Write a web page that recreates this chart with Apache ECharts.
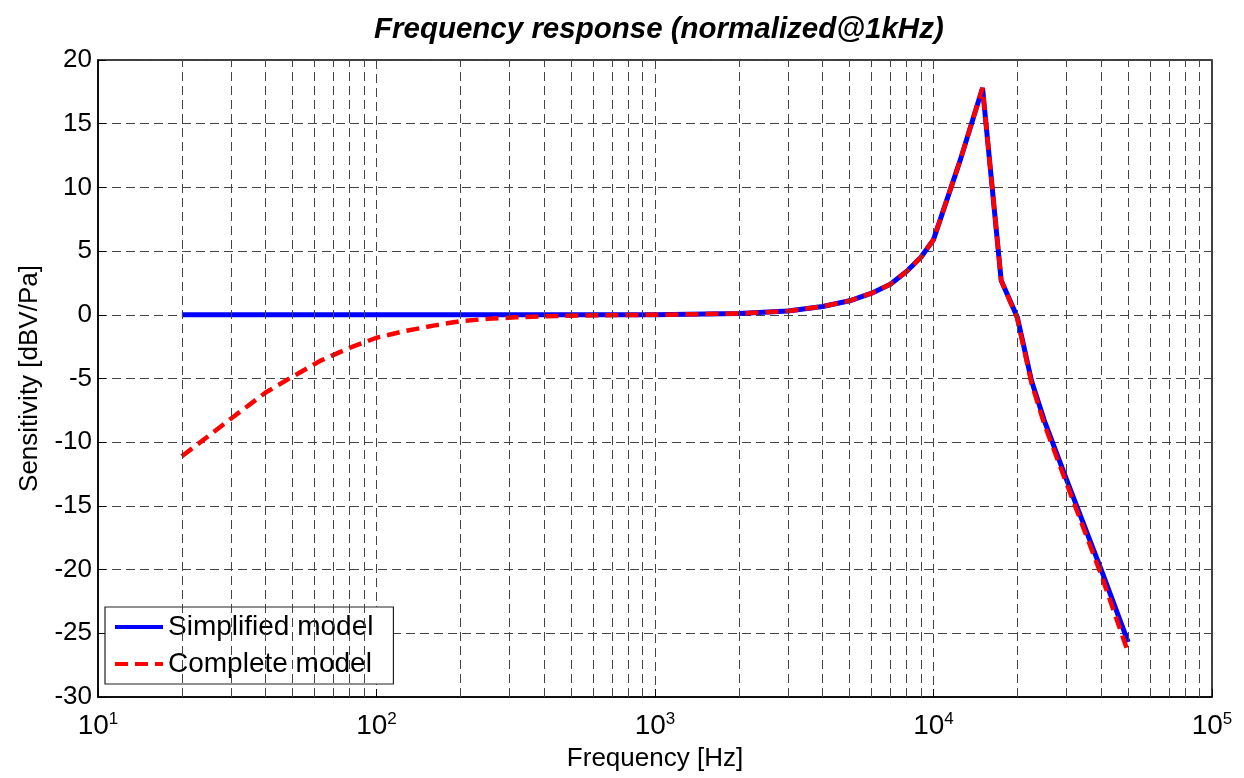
<!DOCTYPE html>
<html>
<head>
<meta charset="utf-8">
<title>Frequency response</title>
<script src="https://cdn.jsdelivr.net/npm/echarts@6/dist/echarts.min.js"></script>
<style>
  html, body { margin: 0; padding: 0; background: #fff; }
  #chart { width: 1244px; height: 778px; }
</style>
</head>
<body>
<div id="chart"></div>
<script>
// frequencies (Hz) and sensitivity (dB)
var freqSimple = [20, 50, 100, 200, 500, 1000, 2000, 3000, 4000, 5000, 6000, 7000, 8000, 9000, 10000, 12500, 15000, 17500, 20000, 22500, 25000, 30000, 40000, 50000];
var dbSimple   = [0, 0, 0, 0, 0, 0, 0.1, 0.3, 0.65, 1.1, 1.7, 2.4, 3.4, 4.5, 5.9, 12.2, 17.8, 2.7, -0.2, -5.2, -8.3, -12.9, -20.0, -25.7];

var freqComplete = [20, 25, 31.5, 40, 50, 63, 80, 100, 125, 160, 200, 250, 315, 400, 500, 630, 800, 1000, 2000, 3000, 4000, 5000, 6000, 7000, 8000, 9000, 10000, 12500, 15000, 17500, 20000, 22500, 25000, 30000, 40000, 50000];
var dbComplete   = [-11.1, -9.5, -7.8, -6.1, -4.85, -3.6, -2.6, -1.8, -1.3, -0.85, -0.5, -0.32, -0.2, -0.12, -0.07, -0.03, -0.01, 0, 0.1, 0.3, 0.65, 1.1, 1.7, 2.4, 3.4, 4.5, 5.9, 12.2, 17.8, 2.7, -0.3, -5.4, -8.6, -13.2, -20.4, -26.5];

var seriesNames = ['Simplified model', 'Complete model'];

// minor log grid positions (2..9 x each decade)
var minorTicks = [];
for (var d = 10; d < 100000; d *= 10) {
  for (var m = 2; m <= 9; m++) minorTicks.push(d * m);
}

function pairs(xs, ys) {
  var out = [];
  for (var i = 0; i < xs.length; i++) out.push([xs[i], ys[i]]);
  return out;
}

var font = 'Liberation Sans, Arial, Helvetica, sans-serif';
var gridLine = { color: '#444', width: 1, type: [9, 5] };

var myChart = echarts.init(document.getElementById('chart'));
myChart.setOption({
  animation: false,
  backgroundColor: '#fff',
  title: {
    text: 'Frequency response (normalized@1kHz)',
    left: 369,
    top: 10,
    textStyle: { fontFamily: font, fontSize: 29.5, fontWeight: 'bold', fontStyle: 'italic', color: '#000' }
  },
  grid: {
    left: 98, right: 32, top: 60, bottom: 81,
    show: true, borderColor: '#000', borderWidth: 1.5, backgroundColor: '#fff'
  },
  legend: {
    data: seriesNames,
    orient: 'vertical',
    left: 105,
    top: 607,
    itemWidth: 48,
    itemHeight: 16,
    itemGap: 9,
    padding: [6, 20, 6, 8],
    backgroundColor: '#fff',
    borderColor: '#222',
    borderWidth: 1.2,
    borderRadius: 0,
    itemStyle: { opacity: 0 },
    lineStyle: { width: 4 },
    textStyle: { fontFamily: font, fontSize: 28, color: '#000' }
  },
  xAxis: {
    type: 'log',
    logBase: 10,
    min: 10,
    max: 100000,
    splitNumber: 4,
    name: 'Frequency [Hz]',
    nameLocation: 'middle',
    nameGap: 48,
    nameTextStyle: { fontFamily: font, fontSize: 26, color: '#000' },
    axisLine: { show: true, onZero: false, lineStyle: { color: '#000', width: 1.5 } },
    axisTick: { show: true, inside: true, length: 8, lineStyle: { color: '#000' } },
    splitLine: { show: true, lineStyle: gridLine },
    axisLabel: {
      color: '#000',
      margin: 14,
      formatter: function (v) {
        return '{b|10}{s|' + Math.round(Math.log10(v)) + '}';
      },
      rich: {
        b: { fontFamily: font, fontSize: 28, color: '#000' },
        s: { fontFamily: font, fontSize: 17, color: '#000', verticalAlign: 'top', padding: [0, 0, 14, 0] }
      }
    }
  },
  yAxis: {
    type: 'value',
    min: -30,
    max: 20,
    interval: 5,
    name: 'Sensitivity [dBV/Pa]',
    nameLocation: 'middle',
    nameGap: 55,
    nameTextStyle: { fontFamily: font, fontSize: 26, color: '#000' },
    axisLine: { show: true, onZero: false, lineStyle: { color: '#000', width: 1.5 } },
    axisTick: { show: true, inside: true, length: 8, lineStyle: { color: '#000' } },
    splitLine: { show: true, lineStyle: gridLine },
    axisLabel: { color: '#000', fontFamily: font, fontSize: 26, margin: 6 }
  },
  series: [
    {
      name: 'minor grid',
      type: 'line',
      data: [[20, 0]],
      symbol: 'none',
      silent: true,
      z: 1,
      lineStyle: { opacity: 0 },
      markLine: {
        silent: true,
        symbol: 'none',
        label: { show: false },
        lineStyle: gridLine,
        data: minorTicks.map(function (v) { return { xAxis: v }; })
      }
    },
    {
      name: seriesNames[0],
      type: 'line',
      data: pairs(freqSimple, dbSimple),
      symbol: 'none',
      z: 3,
      lineStyle: { color: '#0000ff', width: 5 },
      itemStyle: { color: '#0000ff' }
    },
    {
      name: seriesNames[1],
      type: 'line',
      data: pairs(freqComplete, dbComplete),
      symbol: 'none',
      z: 4,
      lineStyle: { color: '#ff0000', width: 4.5, type: [13, 7] },
      itemStyle: { color: '#ff0000' }
    }
  ]
});
</script>
</body>
</html>
